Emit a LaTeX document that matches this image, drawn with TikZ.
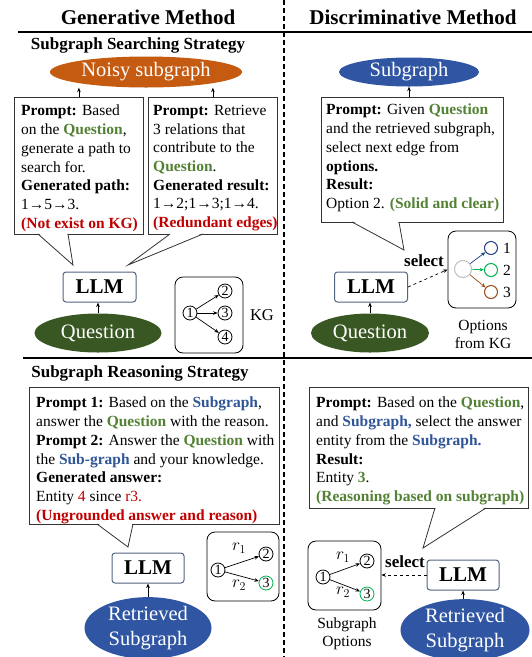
\documentclass[tikz,border=0pt]{standalone}
\usepackage{fontspec}
\setmainfont{Liberation Serif}
\usetikzlibrary{arrows.meta,calc,shapes.geometric}
\definecolor{qgreen}{HTML}{548235}
\definecolor{sblue}{HTML}{2F5597}
\definecolor{xred}{HTML}{C00000}
\definecolor{noisyfill}{HTML}{C55A11}
\definecolor{qfill}{HTML}{385723}
\definecolor{sfill}{HTML}{2F55A3}
\definecolor{llmdraw}{HTML}{52657F}
\definecolor{opblue}{HTML}{1F3C88}
\definecolor{opgreen}{HTML}{00B050}
\definecolor{opbrown}{HTML}{9A4A14}
\newcommand{\Qw}{\textbf{\textcolor{qgreen}{Question}}}
\newcommand{\Sgw}[1]{\textbf{\textcolor{sblue}{#1}}}
\newcommand{\calltail}[3]{%
  \fill[white] ($(#1)+(0.7,-0.7)$) -- ($(#2)+(-0.7,-0.7)$) -- (#3) -- cycle;
  \draw[tailline] (#1) -- (#3) -- (#2);}
\begin{document}
\begin{tikzpicture}[x=1pt,y=-1pt,
  >={Stealth[length=4.5pt,width=3.6pt]},
  titletext/.style={font=\fontsize{21}{25}\selectfont\bfseries, inner sep=0pt},
  strat/.style={font=\fontsize{17}{20}\selectfont\bfseries, inner sep=0pt},
  pbox/.style={draw=black!80, line width=0.8pt, fill=white, anchor=north west, inner sep=0pt},
  ptext/.style={anchor=north west, align=left, inner sep=0pt, font=\fontsize{15.5}{18.7}\selectfont},
  ell/.style={ellipse, inner sep=0pt, text=white, align=center, font=\fontsize{20.5}{25}\selectfont},
  llm/.style={draw=llmdraw, fill=white, line width=1pt, rounded corners=3pt, minimum width=73pt, minimum height=30pt, font=\fontsize{21}{24}\selectfont\bfseries, inner sep=0pt},
  gbox/.style={draw, line width=0.8pt, rounded corners=8pt, inner sep=0pt},
  gn/.style={circle, draw, line width=0.8pt, minimum size=14pt, inner sep=0pt, font=\fontsize{14}{14}\selectfont},
  ar/.style={->, line width=0.7pt},
  dar/.style={->, dashed, line width=0.7pt},
  sel/.style={font=\fontsize{17}{19}\selectfont\bfseries, inner sep=0pt},
  lbl/.style={font=\fontsize{15.5}{18}\selectfont, inner sep=0pt, align=center},
  rl/.style={font=\fontsize{17}{17}\selectfont, inner sep=0pt},
  tailline/.style={line width=0.8pt, draw=black!80},
  sepline/.style={line width=1.5pt}
]
\path[use as bounding box] (0,0) rectangle (532,657);

% headers and separators
\node[titletext] (hgen) at (148,17) {Generative Method};
\node[titletext] (hdis) at (413,17) {Discriminative Method};
\draw[sepline] (18,32) -- (532,32);
\draw[sepline] (23,358) -- (532,358);
\draw[line width=1.8pt, dash pattern=on 5pt off 3pt] (284,0) -- (284,657);
\node[strat] (s1) at (138,45) {Subgraph Searching Strategy};
\node[strat] (s2) at (140,373) {Subgraph Reasoning Strategy};

% ===== Generative, searching =====
\node[ell, fill=noisyfill, minimum width=192pt, minimum height=31pt] (noisy) at (146,72) {Noisy subgraph};
\node[pbox, minimum width=129pt, minimum height=137pt] (pa) at (14,97) {};
\node[ptext] (pat) at (21,105) {\textbf{Prompt:} Based\\ on the \Qw,\\ generate a path to\\ search for.\\ \textbf{Generated path:}\\ 1→5→3.\\ \textcolor{xred}{\textbf{(Not exist on KG)}}};
\node[pbox, minimum width=129pt, minimum height=137pt] (pb) at (148,97) {};
\node[ptext] (pbt) at (153,105) {\textbf{Prompt:} Retrieve\\ 3 relations that\\ contribute to the\\ \Qw.\\ \textbf{Generated result:}\\ 1→2;1→3;1→4.\\ \textcolor{xred}{\textbf{(Redundant edges)}}};
\draw[ar] (pa.north) -- (pa.north |- noisy.south);
\draw[ar] (pb.north) -- (pb.north |- noisy.south);
\coordinate (ta1) at (38,234); \coordinate (ta2) at (68,234); \coordinate (tat) at (73,265);
\coordinate (tb1) at (170,234); \coordinate (tb2) at (203,234); \coordinate (tbt) at (128,265);
\calltail{ta1}{ta2}{tat}
\calltail{tb1}{tb2}{tbt}
\node[llm] (llm1) at (99.5,287) {LLM};
\node[ell, fill=qfill, minimum width=127pt, minimum height=39pt] (q1) at (98,333) {Question};
\draw[ar] (q1.north) -- (q1.north |- llm1.south);
\node[gbox, minimum width=68pt, minimum height=76pt] (kg) at (209,315) {};
\node[gn] (k1) at (190,313) {1};
\node[gn] (k2) at (225,291) {2};
\node[gn] (k3) at (225,313) {3};
\node[gn] (k4) at (225,337) {4};
\draw[ar] (k1) -- (k2);
\draw[ar] (k1) -- (k3);
\draw[ar] (k1) -- (k4);
\node[lbl, font=\fontsize{16.5}{18}\selectfont] (kgl) at (262,315) {KG};

% ===== Discriminative, searching =====
\node[ell, fill=sfill, minimum width=140pt, minimum height=29pt] (sub) at (409,72) {Subgraph};
\node[pbox, minimum width=182pt, minimum height=125pt] (pc) at (321,97) {};
\node[ptext] (pct) at (326,104) {\textbf{Prompt:} Given \Qw\\ and the retrieved subgraph,\\ select next edge from\\ \textbf{options.}\\ \textbf{Result:}\\ Option 2. \textcolor{qgreen}{\textbf{(Solid and clear)}}};
\draw[ar] (sub.south |- pc.north) -- (sub.south);
\coordinate (tc1) at (352,222); \coordinate (tc2) at (399,222); \coordinate (tct) at (404,250);
\calltail{tc1}{tc2}{tct}
\node[sel] (sel1) at (424,261) {select};
\node[llm] (llm2) at (371,287) {LLM};
\node[ell, fill=qfill, minimum width=118pt, minimum height=39pt] (q2) at (370,333) {Question};
\draw[ar] (q2.north) -- (q2.north |- llm2.south);
\node[gbox, minimum width=68pt, minimum height=77pt] (opt) at (482,269.5) {};
\draw[dar] (llm2.east) -- (opt.west);
\node[circle, draw=black!25, line width=1pt, minimum size=17pt, inner sep=0pt] (og) at (463,269) {};
\node[circle, draw=opblue, line width=1pt, minimum size=13pt, inner sep=0pt] (o1) at (491,248) {};
\node[circle, draw=opgreen, line width=1pt, minimum size=13pt, inner sep=0pt] (o2) at (491,270) {};
\node[circle, draw=opbrown, line width=1pt, minimum size=13pt, inner sep=0pt] (o3) at (491,292) {};
\draw[ar, draw=opblue] (og) -- (o1);
\draw[ar, draw=opgreen] (og) -- (o2);
\draw[ar, draw=opbrown] (og) -- (o3);
\node[lbl] (o1l) at (507,248) {1};
\node[lbl] (o2l) at (507,270) {2};
\node[lbl] (o3l) at (507,292) {3};
\node[lbl] (optl) at (483,334) {Options\\ from KG};

% ===== Generative, reasoning =====
\node[pbox, minimum width=250pt, minimum height=137pt] (pd) at (29,387) {};
\node[ptext] (pdt) at (36,397) {\textbf{Prompt 1:} Based on the \Sgw{Subgraph},\\ answer the \Qw{} with the reason.\\ \textbf{Prompt 2:} Answer the \Qw{} with\\ the \Sgw{Sub-graph} and your knowledge.\\ \textbf{Generated answer:}\\ Entity \textcolor{xred}{4} since \textcolor{xred}{r3.}\\ \textcolor{xred}{\textbf{(Ungrounded answer and reason)}}};
\coordinate (td1) at (97,524); \coordinate (td2) at (133,524); \coordinate (tdt) at (128,547);
\calltail{td1}{td2}{tdt}
\node[llm, minimum width=72pt] (llm3) at (148,568) {LLM};
\node[ell, fill=sfill, minimum width=127pt, minimum height=56pt] (rs1) at (148,628) {Retrieved\\ Subgraph};
\draw[ar] (rs1.north) -- (llm3.south);
\node[gbox, minimum width=72pt, minimum height=69pt] (g1) at (243,566.5) {};
\node[gn] (a1) at (218,570) {1};
\node[gn] (a2) at (266,554) {2};
\node[gn, draw=opgreen] (a3) at (266,583) {3};
\draw[ar] (a1) -- (a2);
\draw[ar] (a1) -- (a3);
\node[rl] (ar1) at (239,548) {$r_1$};
\node[rl] (ar2) at (239,585) {$r_2$};

% ===== Discriminative, reasoning =====
\node[pbox, minimum width=219pt, minimum height=121pt] (pe) at (309,387) {};
\node[ptext] (pet) at (316,397) {\textbf{Prompt:} Based on the \Qw,\\ and \Sgw{Subgraph,} select the answer\\ entity from the \Sgw{Subgraph.}\\ \textbf{Result:}\\ Entity \textcolor{qgreen}{\textbf{3}}.\\ \textcolor{qgreen}{\textbf{(Reasoning based on subgraph)}}};
\coordinate (te1) at (435,508); \coordinate (te2) at (486,508); \coordinate (tet) at (423,548);
\calltail{te1}{te2}{tet}
\node[gbox, minimum width=73pt, minimum height=69pt] (g2) at (344.5,575.5) {};
\node[gn] (b1) at (323,577) {1};
\node[gn] (b2) at (367,561) {2};
\node[gn, draw=opgreen] (b3) at (367,594) {3};
\draw[ar] (b1) -- (b2);
\draw[ar] (b1) -- (b3);
\node[rl] (br1) at (343,557) {$r_1$};
\node[rl] (br2) at (343,592) {$r_2$};
\node[lbl] (g2l) at (347,634) {Subgraph\\ Options};
\node[sel] (sel2) at (405,562) {select};
\node[llm, minimum width=72pt] (llm4) at (463,575) {LLM};
\draw[dar] (llm4.west) -- (g2.east |- llm4.west);
\node[ell, fill=sfill, minimum width=129pt, minimum height=56pt] (rs2) at (465,630) {Retrieved\\ Subgraph};
\draw[ar] (rs2.north -| llm4.south) -- (llm4.south);
\end{tikzpicture}
\end{document}
